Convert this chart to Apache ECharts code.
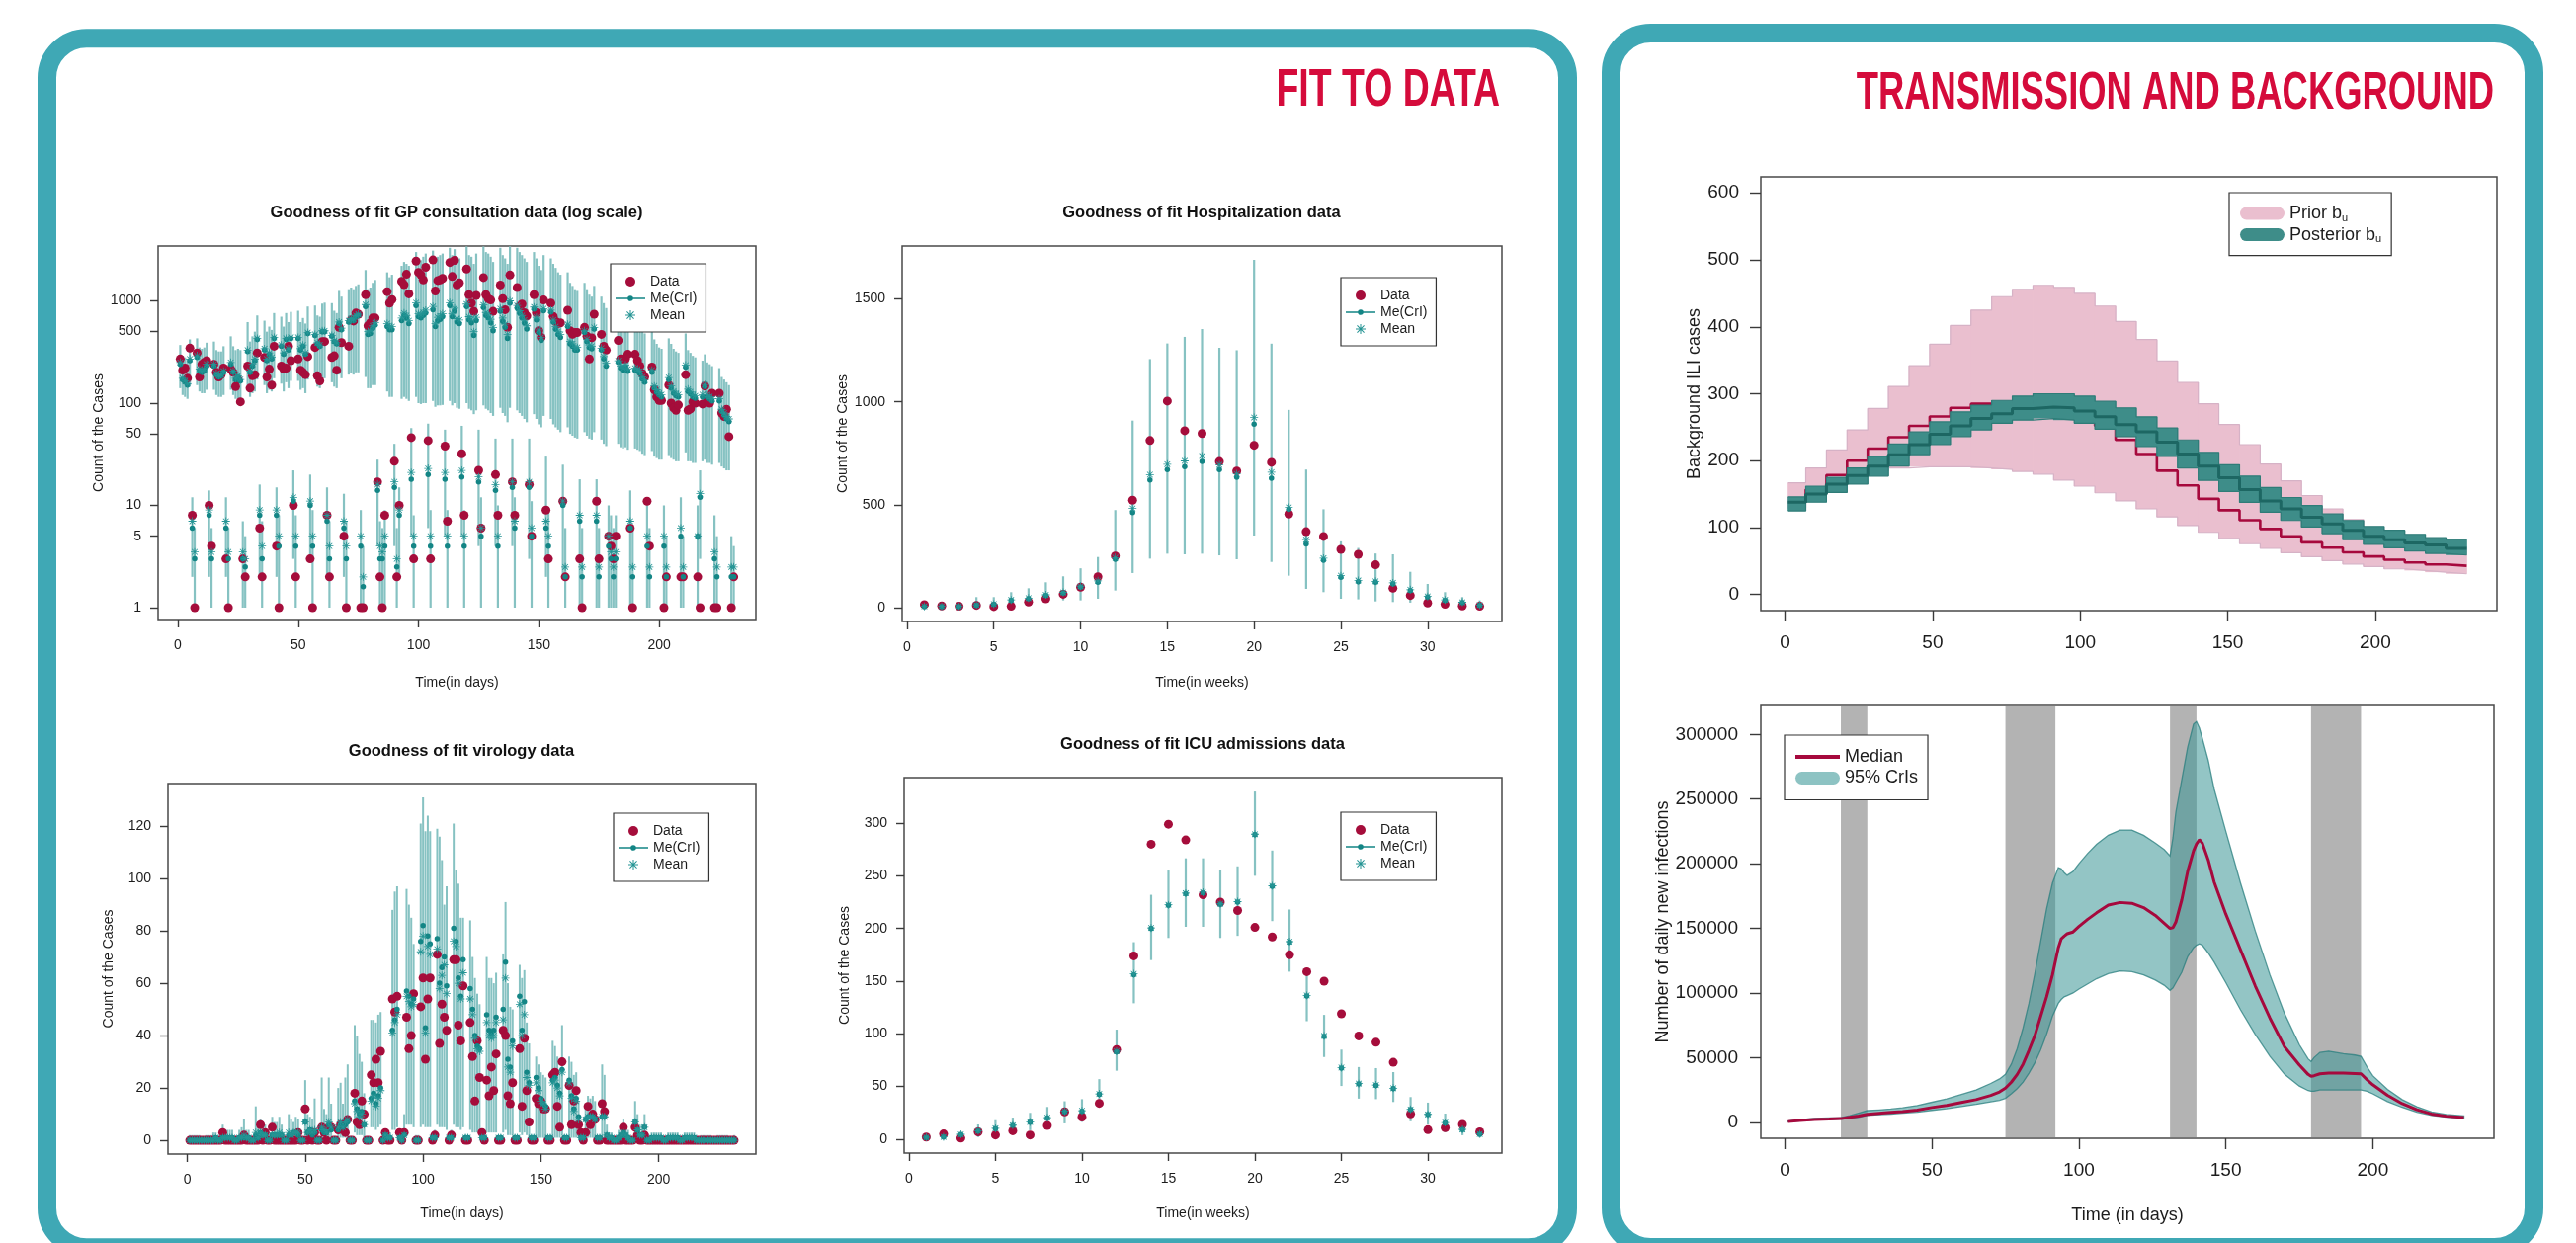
<!DOCTYPE html>
<html><head><meta charset="utf-8">
<script src="https://cdn.jsdelivr.net/npm/echarts@6/dist/echarts.min.js"></script>
<style>html,body{margin:0;padding:0;background:#fff;overflow:hidden}#c{width:2607px;height:1258px}</style>
</head><body><div id="c"></div>
<script>
// ---------------- DATA ----------------
// GP consultations, daily (days 1..231)
const gpData = [
270,210,220,175,345,8,1, 310,180,240,250,260,10,4, 240,200,180,190,220,3,1, 215,200,145,170,103,3,2,
230,140,185,190,310,6,2, 280,180,215,150,360,4,1, 230,215,220,360,260,10,2, 270,210,200,190,285,3,1,
350,185,165,400,400,8,2, 280,290,210,550,390,5,1, 360,650,635,760,740,1,1, 1150,570,610,680,680,17,2,
1,8,1230,950,1030,27,2, 10,1550,1440,1820,1170,46,3, 2450,1900,1800,1600,2130,43,3, 2510,1250,1580,1600,1660,38,7,
2370,1730,2490,1430,1500,32,8, 2050,1150,950,790,1130,22,6, 1690,1150,1050,1020,790,20,8, 1430,1050,820,550,1790,17,8,
1350,880,930,765,710,16,5, 1150,765,510,440,1020,9,3, 950,705,630,600,610,11,2, 810,510,470,490,490,3,1,
550,450,270,435,740,11,3, 470,360,330,5,4,3,5, 410,270,270,270,300,6,1, 300,260,230,195,180,11,4,
225,135,115,106,106,1,2, 150,100,90,85,96,2,2, 190,85,88,103,100,2,1, 98,147,110,100,125,1,1,
125,80,74,87,47,1,2];
const gpMed = [
240,170,160,150,260,6,3, 280,210,200,210,230,8,3, 230,190,180,185,200,6,3, 240,200,170,180,165,3,2.5,
320,200,230,260,420,8,3, 330,260,300,270,430,8,4, 360,300,420,330,430,11,4, 430,330,360,300,480,10,4,
460,380,360,500,500,7,3, 450,400,380,600,520,6,3, 620,650,640,700,720,4,1.6, 880,470,480,540,580,14,3,
3,4,560,520,520,15,2.5, 8,640,720,680,600,18,4, 900,700,680,720,760,20,4, 820,560,640,660,700,18,4,
900,700,800,620,600,19,4, 880,650,610,460,640,17,5, 860,720,680,610,510,14,4, 790,630,550,430,950,15,6,
850,760,680,610,530,15,5, 830,650,490,410,800,6,4, 780,620,530,470,440,10,2, 560,380,360,330,330,7,2,
490,400,350,340,530,7,2, 330,270,230,4,3,2,3, 250,220,210,225,205,6,2, 210,205,195,172,160,4,2,
200,140,128,120,115,4,2, 170,140,125,118,115,5,2, 225,130,123,115,112,5,12, 115,145,115,110,105,3,2,
105,83,76,70,66,2,2];
const gpMean = [
250,175,165,155,270,7,3.5, 290,215,205,215,240,9,3.5, 240,195,185,190,205,7,3.5, 250,205,175,185,170,3.5,3,
330,205,240,270,430,9,4, 340,270,310,280,440,9,5, 370,310,430,340,440,12,5, 440,340,370,310,490,11,5,
470,390,370,510,510,8,4, 460,410,390,620,540,7,4, 640,670,660,720,740,5,2, 920,500,510,570,610,16,4,
3.5,5,600,560,560,17,3, 9,680,760,720,640,21,5, 960,750,730,770,810,23,5, 880,600,690,710,750,21,5,
960,750,850,670,650,22,5, 930,700,660,500,690,19,6, 910,770,730,660,550,16,5, 840,680,590,470,1000,17,7,
900,800,720,650,570,17,6, 870,690,520,440,840,7,5, 810,650,560,500,470,11,2.5, 590,400,380,350,350,8,2.5,
510,420,370,360,550,8,2.5, 345,285,245,5,3.5,2.5,3.5, 260,230,220,235,215,7,2.5, 220,215,205,180,168,5,2.5,
210,147,135,126,121,5,2.5, 178,147,131,124,121,6,2.5, 235,137,129,121,118,5,13, 121,152,121,116,110,3.5,2.5,
110,87,80,74,70,2.5,2.5];
const gpLo = [
140,120,115,110,150,2,1, 150,130,125,125,135,2,1, 135,120,115,115,120,2,1, 135,120,110,110,105,1,1,
150,115,125,130,170,2,1, 150,125,135,130,175,2,1, 155,130,160,140,165,3,1, 165,135,140,125,170,3,1,
170,145,140,175,175,2,1, 160,145,140,190,175,2,1, 190,195,190,200,200,1,1, 180,140,140,150,150,4,1,
1,1,130,115,115,4,1, 2,110,115,110,105,5,1, 115,100,98,100,100,6,1, 105,92,95,95,96,5,1,
105,95,100,90,88,5,1, 100,88,85,78,85,4,1, 95,88,85,80,75,4,1, 90,80,75,65,90,4,1,
85,80,75,70,65,3,1, 78,70,62,58,75,2,1, 70,62,58,55,52,2,1, 58,50,48,46,45,1,1,
52,48,45,44,52,1,1, 44,40,38,1,1,1,1, 40,37,36,37,35,1,1, 36,35,34,32,31,1,1,
34,30,29,28,28,1,1, 31,29,28,27,27,1,1, 33,27,27,26,26,1,3, 27,28,26,26,25,1,1,
26,24,23,22,22,1,1];
const gpHi = [
370,290,280,270,420,12,6, 430,350,340,350,390,14,6, 400,330,320,320,360,12,6, 450,360,330,340,330,7,5,
620,400,450,500,720,16,7, 640,500,560,520,760,15,8, 700,560,760,620,780,22,8, 800,620,680,600,880,20,9,
900,720,700,940,960,15,7, 950,800,760,1250,1100,13,7, 1300,1350,1300,1400,1450,9,4, 2000,1300,1350,1500,1600,28,7,
6,9,1900,1700,1800,40,6, 15,2200,2400,2300,2200,57,8, 3000,2600,2500,2700,2900,63,9, 3100,2500,2700,2800,2900,55,9,
3300,2800,3200,2700,2600,60,9, 3400,2800,2700,2300,2900,55,12, 3400,3000,2900,2700,2400,45,10, 3300,2800,2600,2300,3400,45,12,
3300,3000,2800,2600,2400,45,11, 3000,2600,2200,2000,2800,30,9, 2600,2300,2100,1900,1800,25,6, 1900,1500,1400,1300,1250,18,6,
1500,1300,1150,1100,1400,18,6, 1100,950,850,10,8,6,8, 800,700,680,700,650,14,6, 650,620,600,520,480,11,6,
560,420,380,350,340,10,5, 430,380,340,320,310,12,5, 480,330,310,290,280,10,22, 260,300,250,240,230,8,5,
220,180,170,160,150,5,4];
const gpTicksY = [1,5,10,50,100,500,1000];
const dayTicks = [0,50,100,150,200];

// Hospitalizations, weekly (weeks 1..33)
const hospData = [14.5,8,6.5,11,5,6.5,27,43,65,99,150,251,522,812,1004,860,846,710,664,789,706,455,369,346,283,259,208,94,59,22.5,16,8,6.5];
const hospMed  = [5,5,5,11,15,35,43,59,70,99,123,235,462,621,671,685,710,671,634,892,629,478,310,230,147,126,123,115,83,51,35,24,11];
const hospMean = [6,6,6,13,17,37,46,62,74,104,130,243,482,646,697,713,737,694,650,924,658,487,330,240,155,132,128,120,87,54,37,26,12];
const hospLo   = [0,0,0,3,3,11,19,24,35,35,43,83,168,238,262,259,262,254,235,350,222,155,91,75,43,40,30,27,24,14,11,8,3];
const hospHi   = [14,19,19,51,51,75,94,123,152,191,246,474,909,1208,1284,1316,1354,1263,1251,1690,1283,961,671,478,322,290,263,259,174,115,75,51,35];
const weekTicks = [0,5,10,15,20,25,30];

// Virology, daily (days 1..232)
const virData = [
0,0,0,0,0,0,0, 0,0,0,0,0,0,0, 3,0,0,0,0,0,0, 0,0,2,0,0,0,0, 0,0,6,0,3,0,0, 5,0,0,0,0,0,0, 0,0,0,0,3,0,0,
12,0,3,0,3,0,0, 5,3,0,5,5,0,0, 4,6,6,3,8,0,0, 18,7,6,15,10,0,0, 25,22,31,22,34,0,3, 0,0,54,49,55,3,0,
3,47,35,40,56,0,0, 51,62,31,54,62,0,2, 71,37,52,47,42,0,2, 69,69,44,38,59,0,0, 45,32,15,38,24,3,0,
23,17,28,19,33,0,0, 42,40,17,14,22,0,0, 35,13,39,19,7,0,0, 16,14,15,12,12,0,0, 25,26,13,5,30,0,0,
21,6,15,19,6,3,0, 3,13,6,10,8,0,0, 14,11,0,0,0,0,0, 0,0,5,0,0,0,0, 5,2,0,0,2,0,0,
0,0,0,0,0,0,0, 0,0,0,0,0,0,0, 0,0,0,0,0,0,0, 0,0,0,0,0,0,0, 0,0,0,0,0,0,0, 0];
const virMed = [
0,0,0,0,0,0,0, 0,0,0,0,1,0,0, 1,1,1,1,1,0,0, 1,1,1,1,1,0,0, 2,1,3,2,2,0,0, 2,2,2,2,2,0,0, 2,2,3,3,2,0,0,
7,3,4,2,3,0,0, 4,3,3,6,4,0,0, 4,6,5,6,7,0,0, 15,12,10,11,6,0,0, 16,18,14,17,20,0,2, 1,1,42,46,50,1,0,
2,57,55,52,54,0,0, 76,82,43,78,75,1,1, 77,60,66,70,59,1,1, 81,76,62,55,69,1,1, 58,50,40,36,35,1,1,
48,42,41,42,47,1,1, 50,68,31,28,38,1,1, 55,42,53,26,22,1,1, 24,20,16,14,13,1,1, 23,24,21,18,27,1,1,
23,17,12,16,9,1,1, 8,9,9,9,8,1,1, 9,9,2,1,1,0,0, 1,2,3,2,1,0,0, 7,4,2,2,5,0,0,
1,1,1,1,1,0,0, 1,1,1,1,1,0,0, 1,1,1,1,1,0,0, 0,0,0,0,0,0,0, 0,0,0,0,0,0,0, 0];
const virMean = [
0,0,0,0,0,0,0, 0,0,0,0,1,0,0, 1,1,1,1,1,0,0, 1,1,2,1,1,0,0, 3,1,3,2,2,0,0, 2,2,2,3,2,0,0, 3,2,3,3,3,0,0,
7,3,4,3,4,0,0, 5,4,3,7,5,0,0, 5,7,5,7,8,0,0, 14,11,9,10,6,0,0, 15,17,13,16,19,0,2, 1,1,41,45,48,1,0,
2,55,53,51,52,0,0, 72,78,41,74,71,1,1, 73,58,63,67,56,1,1, 76,74,60,54,64,1,1, 54,48,39,35,34,1,1,
45,40,39,40,45,1,1, 46,62,28,26,36,1,1, 52,40,48,24,21,1,1, 22,19,15,14,12,1,1, 22,23,20,17,26,1,1,
22,16,11,15,8,1,1, 8,9,9,9,8,1,1, 9,9,2,1,1,0,0, 1,2,3,2,1,0,0, 7,4,2,2,5,0,0,
1,1,1,1,1,0,0, 1,1,1,1,1,0,0, 1,1,1,1,1,0,0, 0,0,0,0,0,0,0, 0,0,0,0,0,0,0, 0];
const virLo = [
0,0,0,0,0,0,0, 0,0,0,0,0,0,0, 0,0,0,0,0,0,0, 0,0,0,0,0,0,0, 0,0,0,0,0,0,0, 0,0,0,0,0,0,0, 0,0,0,0,0,0,0,
1,0,0,0,0,0,0, 0,0,0,1,0,0,0, 1,1,1,1,1,0,0, 3,2,2,2,1,0,0, 5,5,4,5,6,0,0, 0,0,4,4,5,0,0,
0,6,6,6,5,0,0, 5,6,5,5,5,0,0, 6,5,5,5,4,0,0, 6,5,5,4,5,0,0, 4,3,3,3,3,0,0,
3,3,3,3,3,0,0, 3,4,2,2,2,0,0, 3,2,3,2,1,0,0, 1,1,1,1,1,0,0, 1,1,1,1,2,0,0,
1,1,1,1,1,0,0, 1,1,1,1,1,0,0, 1,1,0,0,0,0,0, 0,0,0,0,0,0,0, 0,0,0,0,0,0,0,
0,0,0,0,0,0,0, 0,0,0,0,0,0,0, 0,0,0,0,0,0,0, 0,0,0,0,0,0,0, 0,0,0,0,0,0,0, 0];
const virHi = [
2,2,2,2,2,1,1, 2,2,2,3,3,1,1, 6,4,4,4,4,1,1, 4,5,8,4,4,1,1, 13,6,8,5,6,1,1, 9,7,7,9,6,1,1, 10,8,7,9,8,1,1,
23,10,9,8,16,1,1, 24,12,10,24,14,1,1, 20,22,14,24,29,1,1, 44,40,33,30,18,1,1, 46,46,45,48,49,1,3, 3,3,88,95,97,3,2,
10,96,90,85,75,2,2, 121,131,118,124,118,3,4, 119,116,107,90,97,3,4, 121,103,98,85,85,2,2, 84,70,62,56,52,3,2,
70,62,62,60,64,2,2, 71,91,60,51,50,2,2, 67,62,65,45,37,2,2, 32,29,26,25,24,2,2, 38,36,32,27,44,2,2,
32,30,25,26,15,3,2, 14,17,16,17,15,2,2, 29,25,6,3,3,1,1, 4,6,8,6,4,1,1, 15,10,6,6,10,1,1,
3,3,3,3,3,1,1, 3,3,3,3,3,1,1, 3,3,3,3,3,1,1, 2,2,2,2,2,1,1, 2,2,2,2,2,1,1, 2];
const virTicksY = [0,20,40,60,80,100,120];

// ICU admissions, weekly (weeks 1..33)
const icuData = [2,5,1,7,4,8,4,13,26,21,34,85,174,280,299,284,232,225,217,201,192,175,159,150,119,98,92,73,24,9,11,14,7];
const icuMed  = [1.6,2,4.4,7.6,10,13,16,20,26,26.5,42.6,83,156,200,222,233,234,223,225,289,240,187,136,97.5,67.5,52.4,51,48,28,23.3,15.5,9,4.7];
const icuMean = [1.8,2.2,4.6,7.8,10.3,13.3,16.3,20.4,26.5,27,43,83.5,157,200.5,222.5,233.5,234.5,223.5,225.5,289.5,240.5,187.5,136.5,98,68,52.8,51.4,48.4,28.3,23.6,15.8,9.3,5];
const icuLo   = [0,0,0,2,4,6,8.5,11.7,15,16.4,32,65,129,170,191,201.6,201.6,191,193,250,207,159,112,78,50.5,38.5,38,35.3,17,14,6.6,3.8,1.6];
const icuHi   = [3.8,4.7,7,14,18,20.5,25,30.6,36,38,57,104,187,232,255,266.6,266.6,256,259,330,274,218,159,118,85,68.5,67.5,63.7,40,34.7,24.3,14.8,8.5];
const icuTicksY = [0,50,100,150,200,250,300];

// Background ILI cases, weekly steps (33 weeks, edges in days)
const bgEdges = [1,7,14,21,28,35,42,49,56,63,70,77,84,91,98,105,112,119,126,133,140,147,154,161,168,175,182,189,196,203,210,217,224,231];
const priorHi = [167,189,216,246,278,311,342,374,402,425,445,456,462,459,450,431,408,381,349,317,285,254,224,195,170,148,128,112,98,88.5,81,75,71];
const priorLo = [129,150,167,180,185,189,191,191,191,189,187,184,180,171,162,152,140,128,116,103,93,84,76,69,62.5,56.5,50.7,45.7,42,38.4,36,33.4,31];
const priorMed = [138,157,178.5,200,218,235,252,266,279,285,287,288,286,280,268,252,231,210,185,163,143,126,111,98,87,78,70,63,57,52,48,45,43];
const postHi = [146,162,175,189,206.5,225,243,258,273,283,290,296.5,300,300,296.5,288.7,279,265.6,249,231,212.4,194,177,160,145,133,120.5,110.7,101.8,96,90,85,82];
const postLo = [125,138,152.5,165,177,192,209,224,236,246,256,260.6,263,260.6,256,247,236,221,206.5,189,170.6,154,137.7,123,110.7,100.8,91,82,75,70,65,61.5,59];
const postMed = [138,150,165,178,192,209,224,239.5,252,263,270,278,280,279,274,265.6,254,243,227.7,210,192,174.6,157,140,128,115.6,105.7,96,87,82,77,74,69];
const bgTicksY = [0,100,200,300,400,500,600];

// Daily new infections
const infDays = [1,5,10,15,19,22,25,28,32,36,40,45,50,55,60,65,70,73,75,77,79,81,83,85,87,89,91,93,94,95,96,98,100,103,106,110,114,118,122,126,129,131,132,133,135,137,139,140,141,142,144,146,150,155,160,165,170,175,178,179,180,182,185,190,194,196,198,200,205,210,215,220,225,231];
const infMed = [500,1400,2200,2500,2800,3800,4800,6100,6900,7600,8300,9400,11400,13000,15300,17500,20800,23500,26400,31000,37000,45000,55600,67000,82000,97000,114000,135000,142000,144000,145800,147200,151400,157000,162000,168000,170000,169400,166000,160000,154000,150000,150500,155000,172000,194000,210000,215300,218600,216000,203000,186000,161000,133300,105500,80500,58300,44400,37000,35500,36000,37500,38000,38000,37700,37500,33000,29000,20800,14400,9700,6400,4700,3600];
const infHi = [800,2000,3000,3300,3600,5000,7000,9000,9500,10200,11200,13000,15500,18000,21500,25000,30000,33500,37000,45000,57000,73000,92000,115000,140000,165000,185000,197000,196000,193000,191000,194000,200000,208000,215000,222000,226000,226000,222000,216000,211000,206000,220000,240000,265000,290000,308000,310000,305000,297000,280000,258000,225000,185000,148000,114000,84000,60000,49000,47000,50000,54000,55000,53000,52000,51000,43000,36000,25500,17500,12000,8000,6000,5000];
const infLo = [300,1000,1800,2100,2400,3000,3800,5200,5800,6300,7000,7800,9200,10500,12200,13800,15800,17000,18500,22000,26000,31000,38000,46000,56000,68000,82000,92000,95000,97000,98000,100000,103000,107000,111000,115000,117000,116500,114000,110000,106000,102000,104000,108000,116000,128000,135000,137000,138000,137000,131000,124000,108000,87000,68000,51000,37000,28000,24500,24000,24000,25000,25000,25000,25000,25000,24000,22000,16000,11500,7800,5300,3900,3000];
const lockStart = [19,75,131,179];
const lockEnd = [28,92,140,196];
const infTicksY = [0,50000,100000,150000,200000,250000,300000];

// ---------------- STYLE ----------------
const FONT = "'Liberation Sans', Arial, Helvetica, sans-serif";
const RED = '#a50d3b', TEAL = '#138585', STARC = '#249494', BAR = '#86c2c2', TXT = '#1c1c1c';
const STAR = 'path://M9,0L11,0L11,20L9,20Z M0,9L20,9L20,11L0,11Z M3.6,2.2L17.8,16.4L16.4,17.8L2.2,3.6Z M16.4,2.2L17.8,3.6L3.6,17.8L2.2,16.4Z';
const MEDICON = 'path://M0,4.3L30,4.3L30,5.7L0,5.7Z M15,2.2A2.8,2.8 0 1 1 14.99,2.2Z';
const CAPS = 'path://M6.5,0L38.5,0A6.5,6.5 0 0 1 38.5,13L6.5,13A6.5,6.5 0 0 1 6.5,0Z';
const LINEICON = 'path://M0,0L34,0L34,3.2L0,3.2Z';
const idf = v => v;
const lg = v => Math.log10(v);

function ax(gi, min, max, ticks, o) {
  return {
    type: 'value', gridIndex: gi, min: min, max: max,
    axisLine: {show: false, onZero: false}, splitLine: {show: false},
    axisTick: {show: true, inside: false, length: o.tl, customValues: ticks, lineStyle: {color: '#3a3a3a', width: 1.4}},
    axisLabel: {show: true, customValues: ticks, margin: o.m, fontSize: o.fs, color: TXT, fontFamily: FONT,
      formatter: o.fmt || (v => String(v))},
    name: o.name || '', nameLocation: 'middle', nameGap: o.ng || 0,
    nameTextStyle: {fontSize: o.nfs || o.fs, color: TXT, fontFamily: FONT}
  };
}
function errSeries(gi, xs, lo, hi, tf, w) {
  return {
    type: 'custom', xAxisIndex: gi, yAxisIndex: gi, silent: true, z: 2,
    encode: {x: 0, y: [1, 2]},
    data: xs.map((x, i) => [x, tf(lo[i]), tf(hi[i])]),
    renderItem: (p, api) => {
      const a = api.coord([api.value(0), api.value(1)]);
      const b = api.coord([api.value(0), api.value(2)]);
      return {type: 'line', shape: {x1: a[0], y1: a[1], x2: b[0], y2: b[1]}, style: {stroke: BAR, lineWidth: w}};
    }
  };
}
function pts(gi, name, xs, ys, tf, symbol, size, color, z) {
  return {type: 'scatter', name: name, xAxisIndex: gi, yAxisIndex: gi, silent: true, z: z,
    symbol: symbol, symbolSize: size, itemStyle: {color: color, opacity: 1},
    data: xs.map((x, i) => [x, tf(ys[i])])};
}
function fitSet(gi, xs, d, med, mean, lo, hi, tf, w) {
  return [errSeries(gi, xs, lo, hi, tf, w),
    pts(gi, 'Data', xs, d, tf, 'circle', 9, RED, 3),
    pts(gi, 'Me(CrI)', xs, med, tf, 'circle', 5.5, TEAL, 4),
    pts(gi, 'Mean', xs, mean, tf, STAR, 8, STARC, 5)];
}
function fitLegend(left, top) {
  return {left: left, top: top, orient: 'vertical', padding: [11, 9, 10, 5], itemGap: 3,
    itemWidth: 30, itemHeight: 10, backgroundColor: '#fff', borderColor: '#333', borderWidth: 1.2,
    selectedMode: false, textStyle: {fontSize: 14, color: TXT, fontFamily: FONT},
    data: [{name: 'Data', icon: 'circle'}, {name: 'Me(CrI)', icon: MEDICON}, {name: 'Mean', icon: STAR}]};
}
function ttl(text, cx, top) {
  return {text: text, left: cx, top: top, textAlign: 'center', padding: 0,
    textStyle: {fontSize: 16.5, fontWeight: 'bold', color: '#111', fontFamily: FONT}};
}
function weekBand(name, lo, hi, color, z) {
  return {type: 'custom', name: name, xAxisIndex: 4, yAxisIndex: 4, silent: true, z: z,
    itemStyle: {color: color}, encode: {x: [0, 1], y: [2, 3]},
    data: lo.map((v, k) => [bgEdges[k], bgEdges[k + 1], v, hi[k]]),
    renderItem: (p, api) => {
      const a = api.coord([api.value(0), api.value(3)]);
      const b = api.coord([api.value(1), api.value(2)]);
      return {type: 'rect', shape: {x: a[0] - 0.4, y: a[1], width: b[0] - a[0] + 0.8, height: b[1] - a[1]}, style: {fill: color}};
    }};
}
function stepLine(vals, color, w, z) {
  const d = vals.map((v, k) => [bgEdges[k], v]);
  d.push([bgEdges[bgEdges.length - 1], vals[vals.length - 1]]);
  return {type: 'line', xAxisIndex: 4, yAxisIndex: 4, step: 'end', symbol: 'none', showSymbol: false, silent: true,
    data: d, lineStyle: {color: color, width: w}, itemStyle: {color: color}, z: z};
}

const gpX = gpData.map((_, i) => i + 1);
const virX = virData.map((_, i) => i + 1);
const wkX = hospData.map((_, i) => i + 1);
const L14 = {fs: 14, tl: 8};

const option = {
  backgroundColor: '#ffffff',
  animation: false,
  textStyle: {fontFamily: FONT},
  title: [
    ttl('Goodness of fit GP consultation data (log scale)', 462, 207),
    ttl('Goodness of fit Hospitalization data', 1216, 207),
    ttl('Goodness of fit virology data', 467, 752),
    ttl('Goodness of fit ICU admissions data', 1217, 745)
  ],
  legend: [
    fitLegend(618, 267), fitLegend(1357, 281), fitLegend(621, 823), fitLegend(1357, 822),
    {left: 2256, top: 195, orient: 'vertical', padding: [12, 10, 11, 11], itemGap: 2.6, itemWidth: 45, itemHeight: 13,
      backgroundColor: '#fff', borderColor: '#333', borderWidth: 1.2, selectedMode: false,
      textStyle: {fontSize: 18, color: TXT, fontFamily: FONT,
        rich: {n: {fontSize: 18, lineHeight: 20, fontFamily: FONT, color: TXT}, s: {fontSize: 11, lineHeight: 20, verticalAlign: 'bottom', fontFamily: FONT, color: TXT}}},
      formatter: n => n === 'Prior bu' ? '{n|Prior b}{s|u}' : '{n|Posterior b}{s|u}',
      data: [{name: 'Prior bu', icon: CAPS}, {name: 'Posterior bu', icon: CAPS}]},
    {left: 1806, top: 744, orient: 'vertical', padding: [12, 10, 12, 11], itemGap: 1.5, itemWidth: 45, itemHeight: 13,
      backgroundColor: '#fff', borderColor: '#333', borderWidth: 1.2, selectedMode: false,
      textStyle: {fontSize: 18, color: TXT, fontFamily: FONT, lineHeight: 20},
      data: [{name: 'Median', icon: LINEICON}, {name: '95% CrIs', icon: CAPS}]}
  ],
  grid: [
    {left: 160, top: 249, width: 605, height: 378},
    {left: 913, top: 249, width: 607, height: 380},
    {left: 170, top: 793, width: 595, height: 375},
    {left: 915, top: 787, width: 605, height: 380},
    {left: 1782, top: 179, width: 745, height: 439},
    {left: 1782, top: 714, width: 742, height: 438}
  ].map(g => Object.assign(g, {show: true, borderColor: '#4a4a4a', borderWidth: 1.5, backgroundColor: 'rgba(0,0,0,0)', containLabel: false})),
  xAxis: [
    ax(0, -8.2, 240.2, dayTicks, Object.assign({m: 19, name: 'Time(in days)', ng: 57}, L14)),
    ax(1, -0.28, 34.28, weekTicks, Object.assign({m: 19, name: 'Time(in weeks)', ng: 55}, L14)),
    ax(2, -8.24, 241.24, dayTicks, Object.assign({m: 19, name: 'Time(in days)', ng: 53}, L14)),
    ax(3, -0.28, 34.28, weekTicks, Object.assign({m: 19, name: 'Time(in weeks)', ng: 54}, L14)),
    ax(4, -8.24, 241.24, dayTicks, {fs: 19, tl: 11, m: 23}),
    ax(5, -8.24, 241.24, dayTicks, {fs: 19, tl: 11, m: 23, name: 'Time (in days)', ng: 69, nfs: 18})
  ],
  yAxis: [
    ax(0, -0.116, 3.536, gpTicksY.map(lg), Object.assign({m: 17, name: 'Count of the Cases', ng: 53,
      fmt: v => String(Math.round(Math.pow(10, v)))}, L14)),
    ax(1, -67.6, 1757.6, [0, 500, 1000, 1500], Object.assign({m: 17, name: 'Count of the Cases', ng: 53}, L14)),
    ax(2, -5.24, 136.24, virTicksY, Object.assign({m: 17, name: 'Count of the Cases', ng: 53}, L14)),
    ax(3, -13.2, 343.2, icuTicksY, Object.assign({m: 17, name: 'Count of the Cases', ng: 53}, L14)),
    ax(4, -24, 624, bgTicksY, {fs: 19, tl: 11, m: 22, name: 'Background ILI cases', ng: 58, nfs: 18}),
    ax(5, -12400, 322400, infTicksY, {fs: 19, tl: 11, m: 23, name: 'Number of daily new infections', ng: 89, nfs: 18})
  ],
  series: [].concat(
    fitSet(0, gpX, gpData, gpMed, gpMean, gpLo, gpHi, lg, 2.2),
    fitSet(1, wkX, hospData, hospMed, hospMean, hospLo, hospHi, idf, 2.2),
    fitSet(2, virX, virData, virMed, virMean, virLo, virHi, idf, 2),
    fitSet(3, wkX, icuData, icuMed, icuMean, icuLo, icuHi, idf, 2.2),
    [
      weekBand('Prior bu', priorLo, priorHi, '#eabfcf', 2),
      stepLine(priorHi, '#d6b2c6', 1.2, 2),
      stepLine(priorLo, '#d6b2c6', 1.2, 2),
      stepLine(priorMed, '#a6093d', 2.6, 3),
      weekBand('Posterior bu', postLo, postHi, '#3e8d89', 4),
      stepLine(postHi, '#2f7c78', 1.2, 4),
      stepLine(postLo, '#2f7c78', 1.2, 4),
      stepLine(postMed, '#1d6763', 3, 5),
      {type: 'custom', xAxisIndex: 5, yAxisIndex: 5, silent: true, z: 1,
        encode: {x: [0, 1], y: 2},
        data: lockStart.map((s, i) => [s, lockEnd[i], 0]),
        renderItem: (p, api) => {
          const cs = p.coordSys;
          const x0 = api.coord([api.value(0), 0])[0];
          const x1 = api.coord([api.value(1), 0])[0];
          return {type: 'rect', shape: {x: x0, y: cs.y + 1, width: x1 - x0, height: cs.height - 2}, style: {fill: '#b3b3b3'}};
        }},
      {type: 'custom', name: '95% CrIs', xAxisIndex: 5, yAxisIndex: 5, silent: true, z: 2,
        itemStyle: {color: '#8dc3c3'}, encode: {x: 0, y: [1, 2]},
        data: infDays.map((d, i) => [d, infLo[i], infHi[i]]),
        renderItem: (p, api) => {
          if (p.dataIndex !== 0) return null;
          const P = infDays.map((d, i) => api.coord([d, infHi[i]]));
          for (let i = infDays.length - 1; i >= 0; i--) P.push(api.coord([infDays[i], infLo[i]]));
          return {type: 'polygon', shape: {points: P}, style: {fill: 'rgba(58,150,150,0.55)', stroke: 'rgba(40,125,125,0.75)', lineWidth: 1.3}};
        }},
      {type: 'line', name: 'Median', xAxisIndex: 5, yAxisIndex: 5, silent: true, z: 4, symbol: 'none', showSymbol: false,
        color: '#a6093d', itemStyle: {color: '#a6093d'}, lineStyle: {color: '#a6093d', width: 3},
        data: infDays.map((d, i) => [d, infMed[i]])}
    ]
  ),
  graphic: [
    {type: 'rect', silent: true, z: 10, shape: {x: 47.5, y: 38.8, width: 1539, height: 1224, r: 40},
      style: {fill: 'none', stroke: '#3fa8b5', lineWidth: 19}},
    {type: 'rect', silent: true, z: 10, shape: {x: 1630.5, y: 33.5, width: 934, height: 1229, r: 40},
      style: {fill: 'none', stroke: '#3fa8b5', lineWidth: 19}},
    {type: 'text', silent: true, z: 11, x: 1518, y: 92, scaleX: 0.706,
      style: {text: 'FIT TO DATA', fontSize: 53, fontWeight: 'bold', fontFamily: FONT, fill: '#d50b3b', align: 'right', verticalAlign: 'middle'}},
    {type: 'text', silent: true, z: 11, x: 2524, y: 95, scaleX: 0.687,
      style: {text: 'TRANSMISSION AND BACKGROUND', fontSize: 53, fontWeight: 'bold', fontFamily: FONT, fill: '#d50b3b', align: 'right', verticalAlign: 'middle'}}
  ]
};

const chart = echarts.init(document.getElementById('c'), null, {renderer: 'canvas', width: 2607, height: 1258});
chart.setOption(option);
</script></body></html>
